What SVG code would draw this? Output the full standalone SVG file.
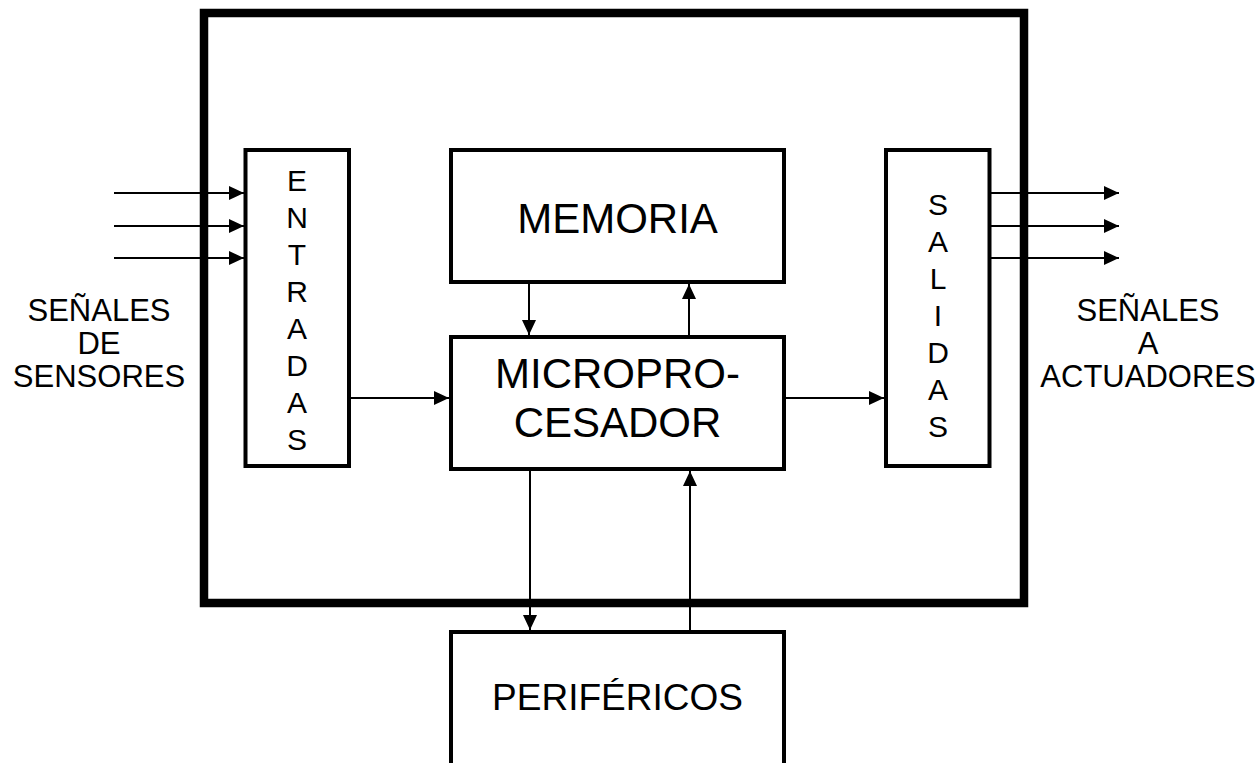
<svg xmlns="http://www.w3.org/2000/svg" width="1260" height="763" viewBox="0 0 1260 763">
  <style>
    .box { fill: #ffffff; stroke: #000000; stroke-width: 4; }
    .outer { fill: none; stroke: #000000; stroke-width: 8.5; }
    .conn { stroke: #000000; stroke-width: 2; fill: none; marker-end: url(#arr); }
    text { font-family: "Liberation Sans", Arial, sans-serif; fill: #000000; text-anchor: middle; }
    .big { font-size: 42px; }
    .mid { font-size: 37px; }
    .col { font-size: 30px; }
    .side { font-size: 31px; }
  </style>
  <defs>
    <marker id="arr" markerUnits="userSpaceOnUse" markerWidth="16" markerHeight="15" refX="15" refY="7" orient="auto">
      <path d="M0,0 L15,7 L0,14 Z" fill="#000000"/>
    </marker>
  </defs>
  <rect width="1260" height="763" fill="#ffffff"/>

  <g id="outer-box">
    <rect class="outer" x="204" y="13" width="820" height="590"/>
  </g>

  <g id="perifericos">
    <rect class="box" x="451" y="632" width="333" height="200"/>
    <text class="mid" x="617.5" y="710">PERIFÉRICOS</text>
  </g>

  <g id="entradas">
    <rect class="box" x="245.5" y="150" width="103.5" height="316"/>
    <text class="col" x="297" y="190.5">E</text>
    <text class="col" x="297" y="227.5">N</text>
    <text class="col" x="297" y="264.5">T</text>
    <text class="col" x="297" y="301.5">R</text>
    <text class="col" x="297" y="338.5">A</text>
    <text class="col" x="297" y="375.5">D</text>
    <text class="col" x="297" y="412.5">A</text>
    <text class="col" x="297" y="449.5">S</text>
  </g>

  <g id="memoria">
    <rect class="box" x="451" y="150" width="333" height="132"/>
    <text class="big" x="617.5" y="233">MEMORIA</text>
  </g>

  <g id="microprocesador">
    <rect class="box" x="451" y="337" width="333" height="132"/>
    <text class="big" x="617.5" y="388">MICROPRO-</text>
    <text class="big" x="617.5" y="437">CESADOR</text>
  </g>

  <g id="salidas">
    <rect class="box" x="886" y="150" width="103.5" height="316"/>
    <text class="col" x="938" y="215">S</text>
    <text class="col" x="938" y="252">A</text>
    <text class="col" x="938" y="289">L</text>
    <text class="col" x="938" y="326">I</text>
    <text class="col" x="938" y="363">D</text>
    <text class="col" x="938" y="400">A</text>
    <text class="col" x="938" y="437">S</text>
  </g>

  <g id="label-sensores">
    <text class="side" x="99" y="321">SEÑALES</text>
    <text class="side" x="99" y="354">DE</text>
    <text class="side" x="99" y="387">SENSORES</text>
  </g>

  <g id="label-actuadores">
    <text class="side" x="1148" y="321">SEÑALES</text>
    <text class="side" x="1148" y="354">A</text>
    <text class="side" x="1148" y="387">ACTUADORES</text>
  </g>

  <g id="connectors">
    <line class="conn" x1="114" y1="193" x2="244" y2="193"/>
    <line class="conn" x1="114" y1="226" x2="244" y2="226"/>
    <line class="conn" x1="114" y1="258" x2="244" y2="258"/>
    <line class="conn" x1="351" y1="398" x2="449" y2="398"/>
    <line class="conn" x1="786" y1="398" x2="884" y2="398"/>
    <line class="conn" x1="529" y1="284" x2="529" y2="335"/>
    <line class="conn" x1="689" y1="335" x2="689" y2="284"/>
    <line class="conn" x1="530" y1="471" x2="530" y2="630"/>
    <line class="conn" x1="690" y1="630" x2="690" y2="471"/>
    <line class="conn" x1="991" y1="193" x2="1119" y2="193"/>
    <line class="conn" x1="991" y1="226" x2="1119" y2="226"/>
    <line class="conn" x1="991" y1="258" x2="1119" y2="258"/>
  </g>
</svg>
